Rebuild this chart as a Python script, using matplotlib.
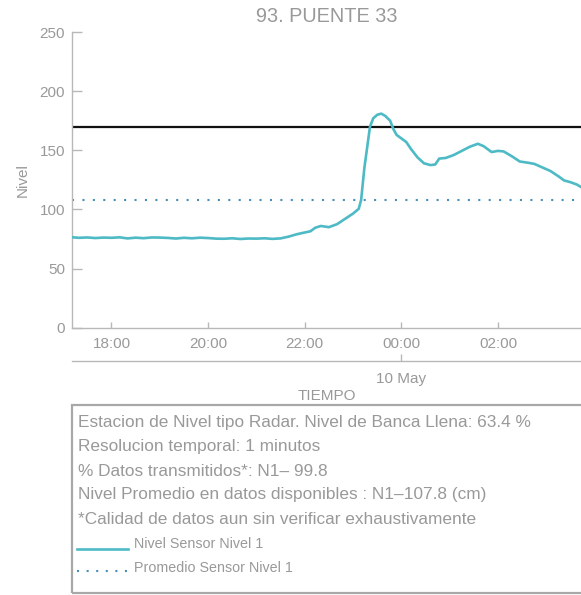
import matplotlib
matplotlib.use("Agg")
import matplotlib.pyplot as plt
import matplotlib.dates as mdates
from matplotlib.patches import Rectangle
from matplotlib.lines import Line2D
import pandas as pd

plt.rcParams['font.family'] = ['Liberation Sans', 'DejaVu Sans']

# ---------------- data ----------------
times = [
    "05-09 17:10", "05-09 17:20", "05-09 17:30", "05-09 17:40", "05-09 17:50",
    "05-09 18:00", "05-09 18:10", "05-09 18:20", "05-09 18:30", "05-09 18:40",
    "05-09 18:50", "05-09 19:00", "05-09 19:10", "05-09 19:20", "05-09 19:30",
    "05-09 19:40", "05-09 19:50", "05-09 20:00", "05-09 20:10", "05-09 20:20",
    "05-09 20:30", "05-09 20:40", "05-09 20:50", "05-09 21:00", "05-09 21:10",
    "05-09 21:20", "05-09 21:30", "05-09 21:40", "05-09 21:50", "05-09 22:00",
    "05-09 22:07", "05-09 22:13", "05-09 22:20", "05-09 22:30", "05-09 22:40",
    "05-09 22:50", "05-09 23:00", "05-09 23:07", "05-09 23:10", "05-09 23:14",
    "05-09 23:21", "05-09 23:25", "05-09 23:30", "05-09 23:35", "05-09 23:40",
    "05-09 23:46", "05-09 23:50", "05-09 23:54", "05-10 00:00", "05-10 00:06",
    "05-10 00:12", "05-10 00:20", "05-10 00:28", "05-10 00:36", "05-10 00:42",
    "05-10 00:47", "05-10 00:55", "05-10 01:05", "05-10 01:15", "05-10 01:25",
    "05-10 01:35", "05-10 01:42", "05-10 01:52", "05-10 02:00", "05-10 02:07",
    "05-10 02:17", "05-10 02:27", "05-10 02:37", "05-10 02:45", "05-10 02:55",
    "05-10 03:05", "05-10 03:15", "05-10 03:22", "05-10 03:30", "05-10 03:38",
    "05-10 03:44",
]
nivel = [
    76.5, 76.0, 76.3, 75.8, 76.2,
    76.0, 76.4, 75.5, 76.1, 75.7,
    76.3, 76.2, 75.9, 75.4, 76.0,
    75.6, 76.1, 75.8, 75.3, 75.2,
    75.6, 75.0, 75.4, 75.3, 75.6,
    75.1, 75.5, 77.0, 79.0, 80.5,
    81.5, 84.5, 86.0, 85.0, 87.5,
    92.0, 96.5, 100.5, 108.0, 135.0,
    170.0, 177.0, 180.0, 181.0, 179.0,
    175.0, 168.0, 163.0, 160.0, 157.0,
    151.0, 144.0, 139.0, 137.5, 138.0,
    143.0, 143.5, 146.0, 149.5, 153.0,
    155.5, 153.5, 148.5, 149.5, 149.0,
    145.0, 140.5, 139.5, 138.5, 135.5,
    132.5, 128.0, 124.5, 123.0, 121.0,
    118.5,
]
promedio = 107.8
banca_llena = 170
x_start = "05-09 17:11"
x_end = "05-10 03:43"
yticks = [0, 50, 100, 150, 200, 250]

title = "93. PUENTE 33"
info_lines = [
    "Estacion de Nivel tipo Radar. Nivel de Banca Llena: 63.4 %",
    "Resolucion temporal: 1 minutos",
    "% Datos transmitidos*: N1\u2013 99.8",
    "Nivel Promedio en datos disponibles : N1\u2013107.8 (cm)",
    "*Calidad de datos aun sin verificar exhaustivamente",
]
legend_labels = ["Nivel Sensor Nivel 1", "Promedio Sensor Nivel 1"]

# ---------------- style ----------------
W, H = 581, 595
TEAL = "#4dbac5"
DOT = "#4a8fb8"
GRAY_TXT = "#999999"
GRAY_AX = "#b8b8b8"

def px(x, y):
    return x / W, 1 - y / H

t = pd.to_datetime(["2024-" + s for s in times])
xs = pd.Timestamp("2024-" + x_start)
xe = pd.Timestamp("2024-" + x_end)

fig = plt.figure(figsize=(W / 100, H / 100), dpi=100)

left, bottom = px(72, 327.7)
_, top = px(0, 32)
ax = fig.add_axes([left, bottom, 1 - left, top - bottom])

ax.plot(t, nivel, color=TEAL, lw=1.9, zorder=3)
ax.axhline(banca_llena, color="#111111", lw=1.6, zorder=2)
ax.axhline(promedio, color=DOT, lw=1.5, ls=(0, (1, 4)), zorder=2)

ax.set_xlim(xs, xe)
ax.set_ylim(0, 250)
ax.set_yticks(yticks)
ax.xaxis.set_major_locator(mdates.HourLocator(byhour=[0, 2, 18, 20, 22]))
ax.xaxis.set_major_formatter(mdates.DateFormatter("%H:%M"))

for s in ["top", "right"]:
    ax.spines[s].set_visible(False)
for s in ["left", "bottom"]:
    ax.spines[s].set_color(GRAY_AX)
    ax.spines[s].set_linewidth(1.0)
ax.tick_params(axis="y", direction="in", length=7, width=1, color=GRAY_AX,
               labelcolor=GRAY_TXT, labelsize=11, pad=5)
ax.tick_params(axis="x", direction="in", length=4, width=1, color=GRAY_AX,
               labelcolor=GRAY_TXT, labelsize=11, pad=7)
ax.set_ylabel("Nivel", color=GRAY_TXT, fontsize=11, labelpad=7)

fig.text(*px(326.5, 17), title, ha="center", va="center",
         color=GRAY_TXT, fontsize=14.3)

# secondary date axis
_, y2 = px(0, 361)
ax2 = fig.add_axes([left, y2, 1 - left, 0.0005])
ax2.set_xlim(xs, xe)
ax2.patch.set_visible(False)
for s in ["top", "right", "left"]:
    ax2.spines[s].set_visible(False)
ax2.spines["bottom"].set_color(GRAY_AX)
ax2.spines["bottom"].set_linewidth(1.0)
ax2.set_yticks([])
ax2.set_xticks([pd.Timestamp("2024-05-10 00:00")])
ax2.set_xticklabels(["10 May"])
ax2.tick_params(axis="x", direction="in", length=5, width=1, color=GRAY_AX,
                labelcolor=GRAY_TXT, labelsize=11, pad=8)
ax2.set_xlabel("TIEMPO", color=GRAY_TXT, fontsize=11, labelpad=2)

# info box
bx0, by1 = px(72, 405)
bx1, by0 = px(600, 593)
fig.patches.append(Rectangle((bx0, by0), bx1 - bx0, by1 - by0,
                             transform=fig.transFigure, fill=False,
                             edgecolor="#a8a8a8", lw=1.6))
line_y = [423, 447, 471, 495, 519]
for s, yy in zip(info_lines, line_y):
    fig.text(*px(77.5, yy), s, ha="left", va="center",
             color=GRAY_TXT, fontsize=12.4)

# legend entries
lx0, _ = px(77, 0)
lx1, _ = px(128, 0)
_, ly1 = px(0, 549)
_, ly2 = px(0, 571)
fig.lines.append(Line2D([lx0, lx1], [ly1, ly1], transform=fig.transFigure,
                        color=TEAL, lw=1.9))
fig.lines.append(Line2D([lx0, lx1], [ly2, ly2], transform=fig.transFigure,
                        color=DOT, lw=1.5, ls=(0, (1, 3.6))))
fig.text(*px(134, 544), legend_labels[0], ha="left", va="center",
         color=GRAY_TXT, fontsize=10.3)
fig.text(*px(134, 568), legend_labels[1], ha="left", va="center",
         color=GRAY_TXT, fontsize=10.3)

fig.savefig("out.png", dpi=100)
